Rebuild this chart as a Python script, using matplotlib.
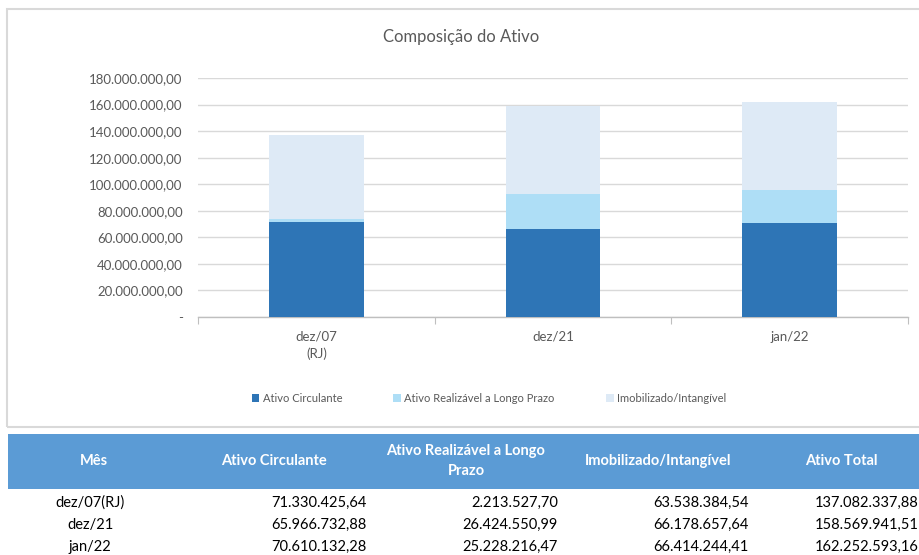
import matplotlib
matplotlib.use("Agg")
import matplotlib.pyplot as plt
from matplotlib.patches import Rectangle
from matplotlib.ticker import FuncFormatter, FixedLocator

plt.rcParams['font.family'] = ['Lato', 'DejaVu Sans']

categories = ["dez/07\n(RJ)", "dez/21", "jan/22"]
table_months = ["dez/07(RJ)", "dez/21", "jan/22"]
ativo_circulante = [71330425.64, 65966732.88, 70610132.28]
ativo_realizavel = [2213527.70, 26424550.99, 25228216.47]
imobilizado = [63538384.54, 66178657.64, 66414244.41]
ativo_total = [137082337.88, 158569941.51, 162252593.16]
series_names = ["Ativo Circulante", "Ativo Realizável a Longo Prazo", "Imobilizado/Intangível"]
table_headers = ["Mês", "Ativo Circulante", "Ativo Realizável a Longo\nPrazo", "Imobilizado/Intangível", "Ativo Total"]
yticks = [0, 20e6, 40e6, 60e6, 80e6, 100e6, 120e6, 140e6, 160e6, 180e6]

colors = ["#2E75B6", "#AEDEF6", "#DEEAF6"]

W, H = 919, 555
fig = plt.figure(figsize=(W / 100, H / 100), dpi=100)


def fx(px):
    return px / W


def fy(py):
    return 1 - py / H


def br(v):
    s = f"{v:,.2f}"
    return s.replace(",", "X").replace(".", ",").replace("X", ".")


# chart border
fig.patches.append(Rectangle((fx(7), fy(427)), fx(940) - fx(7), fy(9) - fy(427),
                             transform=fig.transFigure, fill=False,
                             edgecolor="#D9D9D9", lw=1.5))

ax = fig.add_axes([fx(198), fy(317), fx(908) - fx(198), fy(78) - fy(317)])
x = list(range(len(categories)))
bw = 0.40
bottom2 = [a for a in ativo_circulante]
bottom3 = [a + b for a, b in zip(ativo_circulante, ativo_realizavel)]
ax.bar(x, ativo_circulante, bw, color=colors[0], label=series_names[0], zorder=3)
ax.bar(x, ativo_realizavel, bw, bottom=bottom2, color=colors[1], label=series_names[1], zorder=3)
ax.bar(x, imobilizado, bw, bottom=bottom3, color=colors[2], label=series_names[2], zorder=3)

ax.set_xlim(-0.5, len(categories) - 0.5)
ax.set_ylim(0, 180e6)
ax.set_yticks(yticks)
ax.yaxis.set_major_formatter(FuncFormatter(lambda v, p: "-" if v == 0 else br(v)))
ax.grid(axis="y", color="#D9D9D9", lw=1, zorder=0)
for s in ["top", "right", "left"]:
    ax.spines[s].set_visible(False)
ax.spines["bottom"].set_color("#BFBFBF")
ax.spines["bottom"].set_linewidth(1)
ax.tick_params(axis="y", length=0, pad=11, labelsize=9.5, labelcolor="#595959")
ax.xaxis.set_major_locator(FixedLocator([-0.5, 0.5, 1.5, 2.5]))
ax.xaxis.set_minor_locator(FixedLocator(x))
ax.set_xticklabels([])
ax.set_xticklabels(categories, minor=True, linespacing=1.45)
ax.tick_params(axis="x", which="major", length=5, color="#BFBFBF", direction="out")
ax.tick_params(axis="x", which="minor", length=0, pad=10, labelsize=9.5, labelcolor="#595959")

fig.text(fx(461), fy(37), "Composição do Ativo", ha="center", va="center",
         fontsize=12, color="#595959")

handles, labels = ax.get_legend_handles_labels()
fig.legend(handles, labels, loc="center", bbox_to_anchor=(fx(489), fy(398)), ncol=3,
           frameon=False, fontsize=8, labelcolor="#595959", handlelength=0.7,
           handleheight=0.7, handletextpad=0.3, columnspacing=4.6)

# table
fig.patches.append(Rectangle((fx(8), fy(489)), fx(940) - fx(8), fy(434) - fy(489),
                             transform=fig.transFigure, color="#5B9BD5", lw=0))
col_centers = [94, 274, 466, 658, 841]
col_rights = [None, 367, 558, 749, 919]
for c, h in zip(col_centers, table_headers):
    fig.text(fx(c), fy(461), h, ha="center", va="center", fontsize=10.5,
             fontweight="bold", color="white", linespacing=1.5)

row_y = [503, 525, 547]
for i in range(len(table_months)):
    vals = [ativo_circulante[i], ativo_realizavel[i], imobilizado[i], ativo_total[i]]
    fig.text(fx(90), fy(row_y[i]), table_months[i], ha="center", va="center",
             fontsize=10.5, color="black")
    for j, v in enumerate(vals):
        fig.text(fx(col_rights[j + 1]), fy(row_y[i]), br(v), ha="right", va="center",
                 fontsize=10.5, color="black")

fig.savefig("out.png", dpi=100)
